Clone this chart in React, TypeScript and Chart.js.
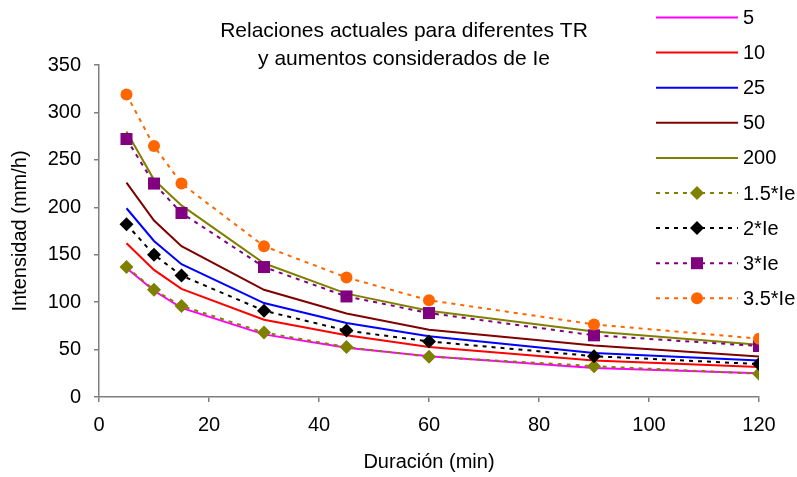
import { useEffect, useRef } from "react";
import { Chart, registerables } from "chart.js";

Chart.register(...registerables);

// Duration in minutes (x axis)
const durations = [5, 10, 15, 30, 45, 60, 90, 120];

// Current intensity-duration relations for each return period TR (mm/h)
const tr5 = [136, 112, 94, 66, 52, 43, 30.5, 25];
const tr10 = [162, 134, 114, 81.5, 65, 52.6, 38.5, 31.5];
const tr25 = [199, 164.5, 140, 99, 78, 64, 46.3, 38.5];
const tr50 = [226, 186, 159, 113, 88, 71, 54.4, 42.8];
const tr200 = [280, 229, 202, 141, 109, 91, 69, 55];

// Considered increases of Ie (mm/h)
const ie15 = [137, 113, 96, 68, 52.6, 42.5, 32.5, 24.5];
const ie2 = [182, 150, 128, 91, 70, 58.6, 43, 34.7];
const ie3 = [272, 225, 194, 137, 106, 88.5, 65, 53.7];
const ie35 = [319, 264.5, 225, 159, 126, 102, 76.5, 61.5];

const seriesLabels = ["5", "10", "25", "50", "200", "1.5*Ie", "2*Ie", "3*Ie", "3.5*Ie"];
const titleLines = ["Relaciones actuales para diferentes TR", "y aumentos considerados de Ie"];
const xTitle = "Duración (min)";
const yTitle = "Intensidad (mm/h)";

const FONT = '"Liberation Sans", Arial, sans-serif';
const DASH = [4, 5];

type Marker = "none" | "diamond" | "square" | "circle";

function drawMarker(ctx: CanvasRenderingContext2D, kind: Marker, x: number, y: number, r: number, color: string) {
  ctx.save();
  ctx.setLineDash([]);
  ctx.fillStyle = color;
  ctx.beginPath();
  if (kind === "diamond") {
    ctx.moveTo(x, y - r);
    ctx.lineTo(x + r, y);
    ctx.lineTo(x, y + r);
    ctx.lineTo(x - r, y);
    ctx.closePath();
  } else if (kind === "square") {
    const s = r * Math.SQRT1_2;
    ctx.rect(x - s, y - s, 2 * s, 2 * s);
  } else if (kind === "circle") {
    ctx.arc(x, y, r, 0, Math.PI * 2);
  }
  ctx.fill();
  ctx.restore();
}

const overlayPlugin = {
  id: "titleAndLegend",
  afterDraw(chart: any) {
    const ctx: CanvasRenderingContext2D = chart.ctx;
    ctx.save();
    // title
    ctx.fillStyle = "#000";
    ctx.font = `21px ${FONT}`;
    ctx.textAlign = "center";
    ctx.textBaseline = "middle";
    titleLines.forEach((t, i) => ctx.fillText(t, 404, 31 + i * 28));

    // legend column
    ctx.font = `20px ${FONT}`;
    ctx.textAlign = "left";
    chart.data.datasets.forEach((ds: any, i: number) => {
      const y = 17.5 + i * 35.1;
      ctx.strokeStyle = ds.borderColor;
      ctx.lineWidth = ds.borderWidth;
      ctx.setLineDash(ds.borderDash || []);
      ctx.beginPath();
      ctx.moveTo(656, y);
      ctx.lineTo(738, y);
      ctx.stroke();
      if (ds.marker !== "none") {
        drawMarker(ctx, ds.marker, 697, y, ds.pointRadius, ds.pointBackgroundColor);
      }
      ctx.fillStyle = "#000";
      ctx.fillText(ds.label, 743, y + 1);
    });
    ctx.restore();
  },
};

function App() {
  const canvasRef = useRef<HTMLCanvasElement | null>(null);

  useEffect(() => {
    document.body.style.margin = "0";
    const canvas = canvasRef.current;
    if (!canvas) return;

    const solid = (label: string, data: number[], color: string) => ({
      label,
      data: durations.map((d, i) => ({ x: d, y: data[i] })),
      borderColor: color,
      backgroundColor: color,
      borderWidth: 2,
      pointRadius: 0,
      pointBackgroundColor: color,
      marker: "none",
      tension: 0,
    });

    const dashed = (label: string, data: number[], color: string, marker: Marker, radius: number) => ({
      label,
      data: durations.map((d, i) => ({ x: d, y: data[i] })),
      borderColor: color,
      backgroundColor: color,
      borderWidth: 2,
      borderDash: DASH,
      pointStyle: marker === "diamond" ? "rectRot" : marker === "square" ? "rect" : "circle",
      pointRadius: radius,
      pointHoverRadius: radius,
      pointBorderWidth: 0,
      pointBackgroundColor: color,
      pointBorderColor: color,
      marker,
      tension: 0,
    });

    const datasets: any[] = [
      solid(seriesLabels[0], tr5, "#FF00FF"),
      solid(seriesLabels[1], tr10, "#FF0000"),
      solid(seriesLabels[2], tr25, "#0000FF"),
      solid(seriesLabels[3], tr50, "#800000"),
      solid(seriesLabels[4], tr200, "#808000"),
      dashed(seriesLabels[5], ie15, "#808000", "diamond", 7),
      dashed(seriesLabels[6], ie2, "#000000", "diamond", 7),
      dashed(seriesLabels[7], ie3, "#800080", "square", 8.5),
      dashed(seriesLabels[8], ie35, "#FF6600", "circle", 6),
    ];
    // later series are painted on top
    datasets.forEach((ds, i) => (ds.order = datasets.length - i));

    const axisColor = "#7F7F7F";

    const chart = new Chart(canvas, {
      type: "line",
      data: { datasets },
      options: {
        animation: false,
        responsive: false,
        maintainAspectRatio: false,
        devicePixelRatio: 1,
        layout: { padding: { top: 65, right: 38, bottom: 0, left: 0 } },
        plugins: {
          legend: { display: false },
          title: { display: false },
          tooltip: { enabled: false },
        },
        scales: {
          x: {
            type: "linear",
            min: 0,
            max: 120,
            border: { display: true, color: axisColor, width: 1.5 },
            grid: { display: true, drawOnChartArea: false, drawTicks: true, tickLength: 5, color: axisColor, lineWidth: 1.5 },
            ticks: { stepSize: 20, color: "#000", padding: 11, font: { family: FONT, size: 20 }, maxRotation: 0 },
            title: { display: true, text: xTitle, color: "#000", font: { family: FONT, size: 20 }, padding: { top: 0, bottom: 3 } },
            afterFit: (scale: any) => {
              scale.height = 80;
            },
          },
          y: {
            type: "linear",
            min: 0,
            max: 350,
            border: { display: true, color: axisColor, width: 1.5 },
            grid: { display: true, drawOnChartArea: false, drawTicks: true, tickLength: 5, color: axisColor, lineWidth: 1.5 },
            ticks: { stepSize: 50, color: "#000", padding: 13, font: { family: FONT, size: 20 } },
            title: { display: true, text: yTitle, color: "#000", font: { family: FONT, size: 20 }, padding: { top: 8, bottom: 0 } },
            afterFit: (scale: any) => {
              scale.width = 99;
            },
          },
        },
      } as any,
      plugins: [overlayPlugin],
    });

    return () => chart.destroy();
  }, []);

  return (
    <div style={{ width: 797, height: 477 }}>
      <canvas ref={canvasRef} width={797} height={477} style={{ display: "block" }} />
    </div>
  );
}

export default App;
